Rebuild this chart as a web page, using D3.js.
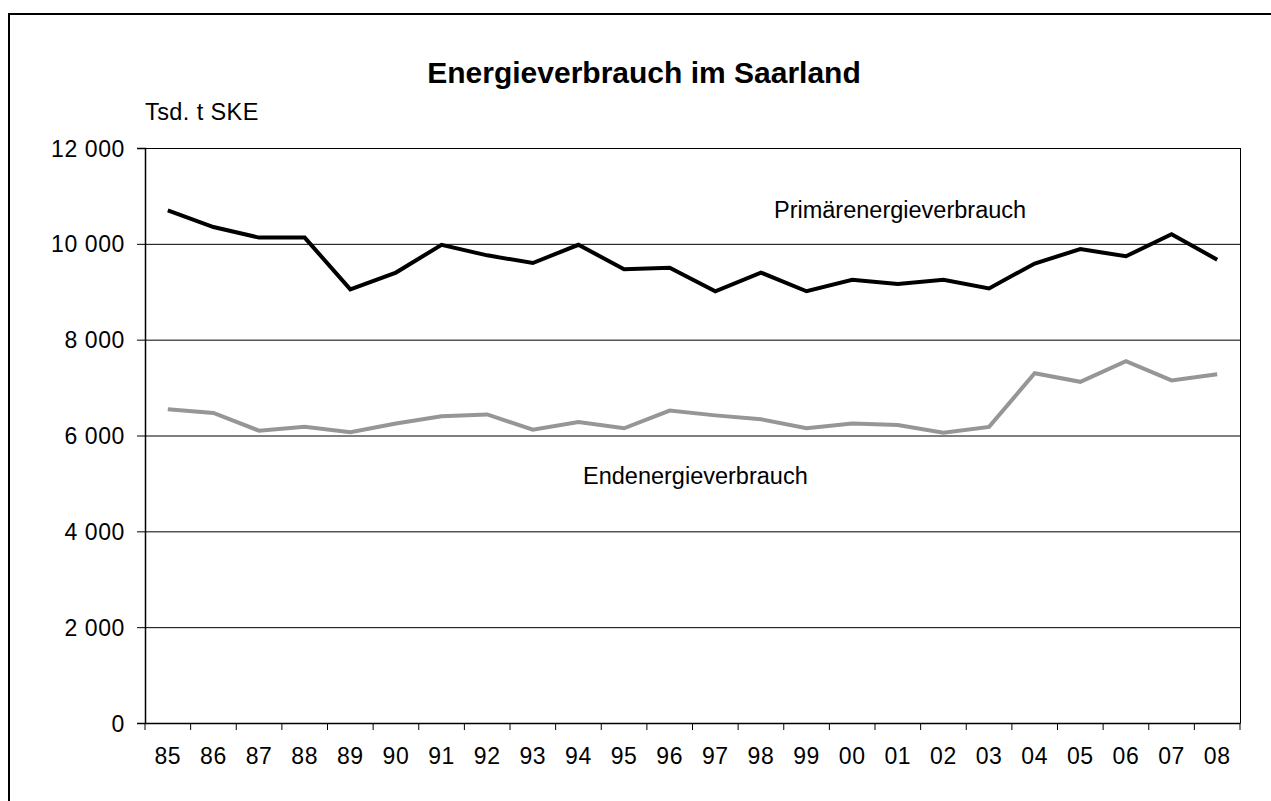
<!DOCTYPE html>
<html>
<head>
<meta charset="utf-8">
<script src="https://cdn.jsdelivr.net/npm/d3@7"></script>
<style>
    html, body {margin: 0; padding: 0; background: #fff;}
    svg text {font-family: Arial, "Liberation Sans", sans-serif; fill: #000;}
</style>
</head>
<body>
<div id="chart"></div>
<script>
const years=["85", "86", "87", "88", "89", "90", "91", "92", "93", "94", "95", "96",
    "97", "98", "99", "00", "01", "02", "03", "04", "05", "06", "07", "08"];

const primaer=[10700, 10350, 10130, 10130, 9050, 9400, 9980, 9760, 9600, 9980, 9470, 9500,
    9010, 9400, 9010, 9250, 9160, 9250, 9070, 9590, 9890, 9740, 10200, 9670];

const endenergie=[6550, 6470, 6100, 6180, 6070, 6250, 6400, 6440, 6120, 6280, 6150, 6520,
    6420, 6340, 6150, 6250, 6220, 6060, 6180, 7300, 7120, 7550, 7150, 7280];

const yTicks=[0, 2000, 4000, 6000, 8000, 10000, 12000];

const width=1271, height=801;
const plot={left: 145, top: 148, right: 1240, bottom: 723};

const svg=d3.select("#chart").append("svg")
    .attr("width", width)
    .attr("height", height);

// outer frame, runs off the right and bottom edge
svg.append("rect")
    .attr("x", 9)
    .attr("y", 14)
    .attr("width", width)
    .attr("height", height)
    .style("fill", "none")
    .style("stroke", "#000")
    .style("stroke-width", 2);

const x=d3.scaleBand()
    .domain(years)
    .range([plot.left, plot.right]);

const y=d3.scaleLinear()
    .domain([0, 12000])
    .range([plot.bottom, plot.top]);

const fmt=v => d3.format(",")(v).replace(/,/g, " ");

// gridlines
svg.append("g")
    .selectAll("line")
    .data(yTicks.filter(d => d>0))
    .enter().append("line")
    .attr("x1", plot.left)
    .attr("x2", plot.right)
    .attr("y1", d => y(d)+0.5)
    .attr("y2", d => y(d)+0.5)
    .style("stroke", "#000")
    .style("stroke-width", 1);

// right border of plot area
svg.append("line")
    .attr("x1", plot.right+0.5)
    .attr("x2", plot.right+0.5)
    .attr("y1", plot.top)
    .attr("y2", plot.bottom)
    .style("stroke", "#000")
    .style("stroke-width", 1);

// y axis
const yAxis=svg.append("g")
    .attr("transform", `translate(${plot.left},0)`)
    .call(d3.axisLeft(y).tickValues(yTicks).tickSize(8).tickPadding(12).tickFormat(fmt));

yAxis.select(".domain").style("stroke", "#000").style("stroke-width", 1.5);
yAxis.selectAll(".tick line").style("stroke", "#000");
yAxis.selectAll("text")
    .style("font-size", "23px")
    .style("letter-spacing", "0.6px")
    .attr("dy", "0.35em");

// x axis, ticks on the band edges
const xAxis=svg.append("g")
    .attr("transform", `translate(0,${plot.bottom})`)
    .call(d3.axisBottom(x).tickSize(0).tickPadding(25));

xAxis.select(".domain").style("stroke", "#000").style("stroke-width", 1.5);
xAxis.selectAll("text")
    .style("font-size", "23px")
    .style("letter-spacing", "0.6px");

const edges=years.map(d => x(d)).concat([x.range()[1]]);
xAxis.selectAll(".edge-tick")
    .data(edges)
    .enter().append("line")
    .attr("class", "edge-tick")
    .attr("x1", d => d)
    .attr("x2", d => d)
    .attr("y1", 0)
    .attr("y2", 7)
    .style("stroke", "#000")
    .style("stroke-width", 1);

// series
const line=d3.line()
    .x((d, i) => x(years[i])+x.bandwidth()/2)
    .y(d => y(d));

svg.append("path")
    .datum(endenergie)
    .attr("d", line)
    .style("fill", "none")
    .style("stroke", "#969696")
    .style("stroke-width", 4)
    .style("stroke-linejoin", "miter");

svg.append("path")
    .datum(primaer)
    .attr("d", line)
    .style("fill", "none")
    .style("stroke", "#000")
    .style("stroke-width", 4)
    .style("stroke-linejoin", "miter");

// texts
svg.append("text")
    .attr("x", 644)
    .attr("y", 83)
    .attr("text-anchor", "middle")
    .style("font-size", "30px")
    .style("font-weight", "bold")
    .text("Energieverbrauch im Saarland");

svg.append("text")
    .attr("x", 145)
    .attr("y", 120)
    .style("font-size", "23.5px")
    .style("letter-spacing", "0.4px")
    .text("Tsd. t SKE");

svg.append("text")
    .attr("x", 774)
    .attr("y", 218)
    .style("font-size", "23.5px")
    .text("Primärenergieverbrauch");

svg.append("text")
    .attr("x", 583)
    .attr("y", 484)
    .style("font-size", "23.5px")
    .text("Endenergieverbrauch");
</script>
</body>
</html>
